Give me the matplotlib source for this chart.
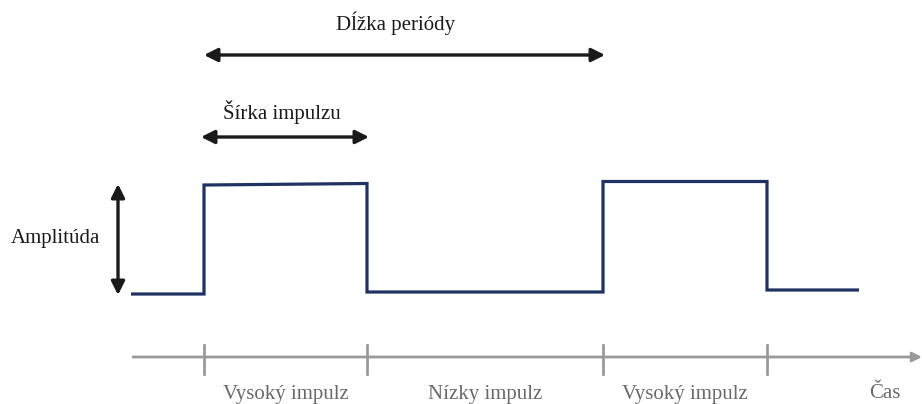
import matplotlib
matplotlib.use("Agg")
import matplotlib.pyplot as plt

# Signal (pixel-space diagram coordinates)
edge_x = [131, 204, 367, 603, 767, 859]          # start, rise, fall, rise, fall, end
low_levels = [294, 292, 292, 290]                  # low segments
high_start = [185, 181.5]                          # high level at start of each pulse
high_end = [183.5, 181.5]                          # high level at end of each pulse

tick_x = [204, 367, 603, 767]
segment_labels = ["Vysoký impulz", "Nízky impulz", "Vysoký impulz", "Čas"]
label_x = [286, 485, 685, 885]

plt.rcParams['font.family'] = ['Liberation Serif', 'DejaVu Serif']

fig = plt.figure(figsize=(9.22, 4.04), dpi=100)
ax = fig.add_axes([0, 0, 1, 1])
ax.set_xlim(0, 922)
ax.set_ylim(404, 0)
ax.axis('off')

navy = '#1f3263'
xs = [edge_x[0], edge_x[1], edge_x[1], edge_x[2], edge_x[2], edge_x[3], edge_x[3], edge_x[4], edge_x[4], edge_x[5]]
ys = [low_levels[0], low_levels[0], high_start[0], high_end[0], low_levels[1],
      low_levels[2], high_start[1], high_end[1], low_levels[3], low_levels[3]]
ax.plot(xs, ys, color=navy, lw=2.3, solid_joinstyle='miter', solid_capstyle='butt')

# time axis
gray = '#9a9a9a'
ax.annotate('', xy=(922, 357), xytext=(133, 357),
            arrowprops=dict(arrowstyle='-|>', color=gray, lw=2, mutation_scale=14,
                            shrinkA=0, shrinkB=0))
for tx in tick_x:
    ax.plot([tx, tx], [345, 374], color=gray, lw=2)
for lx, lab in zip(label_x, segment_labels):
    ax.text(lx, 394, lab, ha='center', va='center', fontsize=15, color='#6a6a6a')

# dimension arrows
black = '#1a1a1a'
def dim_arrow(x0, x1, y0, y1):
    ax.annotate('', xy=(x1, y1), xytext=(x0, y0),
                arrowprops=dict(arrowstyle='<|-|>', color=black, lw=2.4, mutation_scale=20,
                                shrinkA=0, shrinkB=0))

dim_arrow(204, 605, 55, 55)
ax.text(396, 23, 'Dĺžka periódy', ha='center', va='center', fontsize=15, color=black)
dim_arrow(201, 369, 137, 137)
ax.text(282, 112, 'Šírka impulzu', ha='center', va='center', fontsize=15, color=black)
dim_arrow(118, 118, 184, 295)
ax.text(55, 239, 'Amplitúda', ha='center', va='center', fontsize=15, color=black)

fig.savefig('out.png', dpi=100)
